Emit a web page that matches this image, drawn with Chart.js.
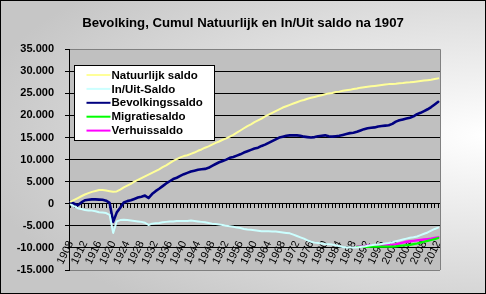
<!DOCTYPE html>
<html><head><meta charset="utf-8">
<script src="https://cdn.jsdelivr.net/npm/chart.js@4.4.1/dist/chart.umd.min.js"></script>
<style>html,body{margin:0;padding:0;background:#fff;overflow:hidden}canvas{display:block}</style>
</head><body>
<canvas id="c" width="486" height="294"></canvas>
<script>
const years = [1908,1909,
1910,1911,1912,1913,1914,1915,1916,1917,1918,1919,
1920,1921,1922,1923,1924,1925,1926,1927,1928,1929,
1930,1931,1932,1933,1934,1935,1936,1937,1938,1939,
1940,1941,1942,1943,1944,1945,1946,1947,1948,1949,
1950,1951,1952,1953,1954,1955,1956,1957,1958,1959,
1960,1961,1962,1963,1964,1965,1966,1967,1968,1969,
1970,1971,1972,1973,1974,1975,1976,1977,1978,1979,
1980,1981,1982,1983,1984,1985,1986,1987,1988,1989,
1990,1991,1992,1993,1994,1995,1996,1997,1998,1999,
2000,2001,2002,2003,2004,2005,2006,2007,2008,2009,
2010,2011,2012];

const natuurlijkSaldo = [500,900,
1300,1700,2100,2400,2700,2900,3100,3100,3000,2850,
2700,2800,3200,3700,4100,4500,5000,5400,5800,6200,
6600,7000,7400,7800,8300,8700,9200,9700,10100,10500,
10800,11000,11300,11600,12000,12300,12700,13000,13400,13800,
14100,14500,14800,15200,15600,16100,16600,17100,17600,18000,
18500,18900,19300,19800,20200,20600,21000,21400,21800,22100,
22400,22700,23000,23300,23500,23800,24000,24200,24400,24600,
24800,25000,25100,25300,25400,25600,25700,25800,26000,26100,
26300,26400,26500,26600,26700,26800,26900,27000,27100,27150,
27200,27300,27350,27450,27500,27600,27700,27800,27900,28000,
28100,28250,28400];

const inUitSaldo = [-200,-600,
-1000,-1200,-1400,-1500,-1550,-1700,-1900,-2000,-2100,-2500,
-6600,-4000,-3700,-3600,-3700,-3800,-3900,-4000,-4100,-4300,
-4800,-4500,-4400,-4350,-4200,-4100,-4000,-4000,-3900,-3900,
-3900,-3900,-3800,-3900,-4000,-4100,-4200,-4350,-4500,-4600,
-4700,-4800,-5000,-5100,-5200,-5400,-5500,-5700,-5850,-5900,
-6000,-6100,-6200,-6200,-6250,-6300,-6300,-6400,-6500,-6600,
-6700,-7000,-7300,-7600,-7900,-8300,-8600,-8800,-8900,-9000,
-9100,-9150,-9250,-9400,-9600,-9800,-9900,-9900,-9900,-9900,
-9800,-9700,-9500,-9400,-9300,-9200,-9100,-9000,-8900,-8700,
-8500,-8300,-8100,-7900,-7700,-7600,-7400,-7100,-6800,-6500,
-6100,-5700,-5400];

const bevolkingsSaldo = [400,0,
-300,300,800,900,1000,1000,950,900,700,200,
-4100,-2000,-900,300,600,800,1100,1400,1600,1850,
1300,2200,2850,3400,4000,4600,5100,5600,5900,6300,
6700,7000,7300,7500,7700,7800,7900,8150,8600,9000,
9400,9700,10000,10400,10600,10900,11200,11600,11900,12200,
12500,12700,13100,13400,13800,14200,14600,15000,15200,15400,
15500,15500,15500,15400,15200,15100,15000,15100,15300,15400,
15500,15300,15200,15300,15400,15600,15800,16000,16100,16300,
16600,16900,17100,17200,17300,17500,17600,17700,17800,18100,
18600,18900,19100,19300,19500,19800,20300,20600,21000,21400,
21900,22500,23100];

const migratieYears = [1989,
1990,1991,1992,1993,1994,1995,1996,1997,1998,1999,
2000,2001,2002,2003,2004,2005,2006,2007,2008,2009,
2010,2011,2012];
const migratieSaldo = [-9750,
-9750,-9750,-9750,-9700,-9700,-9700,-9700,-9700,-9700,-9700,
-9650,-9550,-9450,-9350,-9300,-9150,-9000,-8800,-8600,-8400,
-8200,-8000,-7750];

const verhuisYears = [1989,
1990,1991,1992,1993,1994,1995,1996,1997,1998,1999,
2000,2001,2002,2003,2004,2005,2006,2007,2008,2009,
2010,2011,2012];
const verhuisSaldo = [-9700,
-9650,-9600,-9500,-9450,-9400,-9400,-9350,-9300,-9300,-9250,
-9200,-9000,-8800,-8600,-8500,-8400,-8300,-8200,-8100,-8000,
-7900,-7750,-7600];

const seriesNames = ['Natuurlijk saldo','In/Uit-Saldo','Bevolkingssaldo','Migratiesaldo','Verhuissaldo'];
const seriesColors = ['#FFFF99','#CCFFFF','#000080','#00FF00','#FF00FF'];
const yMin = -15000, yMax = 35000, yStep = 5000;
const labelEvery = 4;

const labels = years.map(String);
const toPoints = (ys, vs) => ys.map((y, i) => ({x: String(y), y: vs[i]}));

function fmt(v) {
  const s = String(Math.abs(v));
  const out = s.length > 3 ? s.slice(0, s.length - 3) + '.' + s.slice(s.length - 3) : s;
  return (v < 0 ? '-' : '') + out;
}

const bgPlugin = {
  id: 'bg',
  beforeDraw(chart) {
    const {ctx, chartArea: a, width, height} = chart;
    ctx.save();
    ctx.fillStyle = '#c8c8c8';
    ctx.fillRect(0, 0, width, height);
    ctx.translate(width, height * 0.46);
    ctx.scale(1, 0.42);
    const g = ctx.createRadialGradient(0, 0, 0, 0, 0, 520);
    g.addColorStop(0, '#ffffff');
    g.addColorStop(1, '#c6c6c6');
    ctx.fillStyle = g;
    ctx.fillRect(-width * 2, -height * 4, width * 4, height * 8);
    ctx.restore();
    ctx.save();
    ctx.fillStyle = '#c0c0c0';
    ctx.fillRect(a.left, a.top, a.right - a.left, a.bottom - a.top);
    ctx.restore();
  },
  beforeDatasetsDraw(chart) {
    const {ctx, chartArea: a} = chart;
    ctx.save();
    ctx.strokeStyle = '#808080';
    ctx.lineWidth = 1;
    ctx.beginPath();
    ctx.moveTo(Math.round(a.right) + 0.5, a.top);
    ctx.lineTo(Math.round(a.right) + 0.5, a.bottom);
    ctx.stroke();
    ctx.restore();
  },
  afterDraw(chart) {
    const {ctx, width, height} = chart;
    ctx.save();
    ctx.strokeStyle = '#000';
    ctx.lineWidth = 1;
    ctx.strokeRect(0.5, 0.5, width - 1, height - 1);
    ctx.restore();
  }
};

const legendPlugin = {
  id: 'boxLegend',
  afterDatasetsDraw(chart) {
    const {ctx, chartArea: a} = chart;
    const x = Math.round(a.left) + 5.5, y = Math.round(a.top) + 16.5, w = 140, h = 75;
    ctx.save();
    ctx.fillStyle = '#fff';
    ctx.fillRect(x, y, w, h);
    ctx.strokeStyle = '#000';
    ctx.lineWidth = 1;
    ctx.strokeRect(x, y, w, h);
    ctx.font = 'bold 11.5px "Liberation Sans", Arial, sans-serif';
    ctx.textBaseline = 'middle';
    ctx.textAlign = 'left';
    chart.data.datasets.forEach((ds, i) => {
      const cy = y + 9.5 + i * 13.9;
      ctx.strokeStyle = ds.borderColor;
      ctx.lineWidth = 2;
      ctx.beginPath();
      ctx.moveTo(x + 12, cy);
      ctx.lineTo(x + 36, cy);
      ctx.stroke();
      ctx.fillStyle = '#000';
      ctx.fillText(ds.label, x + 37, cy + 0.5);
    });
    ctx.restore();
  }
};

Chart.defaults.font.family = '"Liberation Sans", Arial, sans-serif';
Chart.defaults.color = '#000';

new Chart(document.getElementById('c'), {
  type: 'line',
  data: {
    labels: labels,
    datasets: [
      {label: seriesNames[0], data: natuurlijkSaldo, borderColor: seriesColors[0], borderWidth: 2},
      {label: seriesNames[1], data: inUitSaldo, borderColor: seriesColors[1], borderWidth: 2},
      {label: seriesNames[2], data: bevolkingsSaldo, borderColor: seriesColors[2], borderWidth: 2.6},
      {label: seriesNames[3], data: toPoints(migratieYears, migratieSaldo), borderColor: seriesColors[3], borderWidth: 2.2},
      {label: seriesNames[4], data: toPoints(verhuisYears, verhuisSaldo), borderColor: seriesColors[4], borderWidth: 2.4}
    ]
  },
  options: {
    responsive: false,
    animation: false,
    devicePixelRatio: 1,
    elements: {point: {radius: 0, hoverRadius: 0}, line: {tension: 0, borderCapStyle: 'round', borderJoinStyle: 'round'}},
    layout: {padding: {top: 15, right: 0, bottom: 24, left: 0}},
    plugins: {
      legend: {display: false},
      tooltip: {enabled: false},
      title: {
        display: true,
        text: 'Bevolking, Cumul Natuurlijk en In/Uit saldo na 1907',
        font: {size: 13.2, weight: 'bold'},
        color: '#000',
        padding: {top: 0, bottom: 18.4}
      }
    },
    scales: {
      x: {
        type: 'category',
        position: {y: 0},
        offset: true,
        grid: {display: true, drawOnChartArea: false, drawTicks: true, tickLength: 4, color: '#000', lineWidth: 1},
        border: {display: true, color: '#000', width: 1},
        ticks: {
          autoSkip: false,
          minRotation: 64,
          maxRotation: 64,
          padding: 31,
          font: {size: 11},
          color: '#000',
          callback: function (value, index) {
            return (years[index] - years[0]) % labelEvery === 0 ? this.getLabelForValue(value) : '';
          }
        }
      },
      y: {
        min: yMin,
        max: yMax,
        afterFit: (s) => { s.width = 69; },
        grid: {
          color: (ctx) => (ctx.tick && (ctx.tick.value === yMax || ctx.tick.value === yMin)) ? '#808080' : '#000',
          tickColor: '#000',
          tickLength: 4,
          lineWidth: 1
        },
        border: {display: true, color: '#000', width: 1},
        ticks: {
          stepSize: yStep,
          padding: 11,
          font: {size: 11, weight: 'bold'},
          color: '#000',
          callback: (v) => fmt(v)
        }
      },
      rightSpace: {
        type: 'linear',
        position: 'right',
        display: true,
        afterFit: (s) => { s.width = 46; },
        grid: {display: false, drawTicks: false},
        border: {display: false},
        ticks: {display: false}
      }
    }
  },
  plugins: [bgPlugin, legendPlugin]
});
</script>
</body></html>
